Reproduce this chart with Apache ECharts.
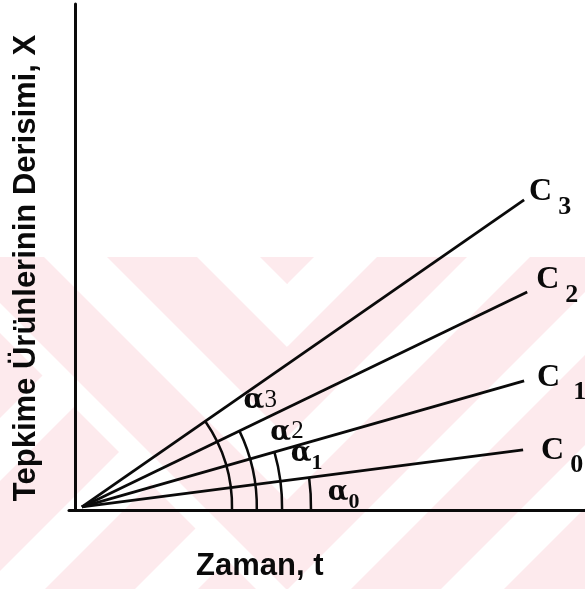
<!DOCTYPE html>
<html>
<head>
<meta charset="utf-8">
<script src="https://cdn.jsdelivr.net/npm/echarts@6/dist/echarts.min.js"></script>
<style>
  html, body { margin: 0; padding: 0; background: #ffffff; }
  #chart { width: 585px; height: 589px; }
</style>
</head>
<body>
<div id="chart"></div>
<script>
// Concentration-vs-time lines for four catalyst concentrations C0..C3
const lineNames = ['C0', 'C1', 'C2', 'C3'];
const lineSubscripts = ['0', '1', '2', '3'];
const lineStart = [2.5, 0.6];
const lineEnds = [[88.0, 11.9], [88.2, 25.5], [88.8, 43.1], [88.2, 61.3]];

// Angle markers: arc i sweeps from the time axis up to line Ci
const arcNames = ['α0', 'α1', 'α2', 'α3'];
const arcRadii = [44.4, 38.8, 33.9, 29.1];   // in time-axis units

const xTitle = 'Zaman, t';
const yTitle = 'Tepkime Ürünlerinin Derisimi, X';

// ---- layout / styling ----
const W = 585, H = 589;
const gridLeft = 69, gridTop = 4, gridBottom = 79;
const ink = '#0a0a0a';
const pink = '#fdeaed';

// end-label offsets (px) and subscript gaps for each line
const endLabelOffsets = [[18, 6.5], [13, 2.5], [9, -6], [5, -2]];
const subscriptGap = [6, 13, 6, 6];
// alpha label placement: [angle deg, radius px] around the common origin
const arcLabelPolar = [[2.4, 262], [12.4, 230], [19.8, 218], [30.5, 207]];
const arcLabelSub = [true, true, false, false];

// background watermark: diagonal bands folded into chevrons
function watermark() {
  const els = [];
  const xv = 287, bandH = 90, period = 153, L = 1200, top = 257, fold = 620;
  const poly = (pts, z, fill) => ({ type: 'polygon', silent: true, z: z, shape: { points: pts }, style: { fill: fill } });
  // rising bands everywhere
  for (let k = -3; k <= 6; k++) {
    const s = 194 + period * k + xv;
    els.push(poly([[s - L, L], [s + L, -L], [s + bandH + L, -L], [s + bandH - L, L]], -24, pink));
  }
  // upper-left wedge holds falling bands instead
  els.push(poly([[-L, -L], [xv, -L], [xv, fold], [-L, fold - xv - L]], -23, '#ffffff'));
  for (let k = -3; k <= 2; k++) {
    const c = 194 + period * k;
    els.push(poly([
      [xv - L, c - L], [xv, c], [xv + 1, c - 1],
      [xv + 1, c + bandH - 1], [xv, c + bandH], [xv - L, c + bandH - L]
    ], -22, pink));
  }
  els.push({ type: 'rect', silent: true, z: -21,
    shape: { x: 0, y: 0, width: W, height: top }, style: { fill: '#ffffff' } });
  return els;
}

const chart = echarts.init(document.getElementById('chart'), null, { renderer: 'canvas' });

const lineSeries = lineNames.map((name, i) => ({
  type: 'line',
  name: name,
  symbol: 'none',
  silent: true,
  clip: false,
  lineStyle: { color: ink, width: 2.8 },
  endLabel: {
    show: true,
    distance: 0,
    offset: endLabelOffsets[i],
    formatter: '{c|C}{s|' + lineSubscripts[i] + '}',
    rich: {
      c: { fontFamily: 'Liberation Serif', fontWeight: 'bold', fontSize: 32, color: ink, lineHeight: 30, verticalAlign: 'top' },
      s: { fontFamily: 'Liberation Serif', fontWeight: 'bold', fontSize: 26, color: ink, lineHeight: 44, verticalAlign: 'bottom', padding: [0, 0, 0, subscriptGap[i]] }
    }
  },
  data: [lineStart, lineEnds[i]]
}));

const arcSeries = {
  type: 'custom',
  silent: true,
  data: arcRadii.map((r, i) => [r, i]),
  renderItem: function (params, api) {
    const i = params.dataIndex;
    const o = api.coord(lineStart);
    const e = api.coord(lineEnds[i]);
    const axisY = api.coord([0, 0])[1];
    const ang = Math.atan2(o[1] - e[1], e[0] - o[0]);
    const r = api.size([arcRadii[i], 0])[0];
    const endAng = Math.asin(Math.min(1, (axisY - o[1]) / r));
    const pol = arcLabelPolar[i];
    const a = pol[0] * Math.PI / 180;
    const lx = o[0] + pol[1] * Math.cos(a);
    const ly = o[1] - pol[1] * Math.sin(a);
    const name = arcNames[i];
    const digit = name.slice(1);
    return {
      type: 'group',
      children: [
        {
          type: 'arc',
          shape: { cx: o[0], cy: o[1], r: r, startAngle: -ang, endAngle: endAng, clockwise: true },
          style: { stroke: ink, lineWidth: 2.5, fill: null }
        },
        {
          type: 'text',
          x: lx, y: ly,
          style: {
            text: '{a|α}{' + (arcLabelSub[i] ? 's' : 'n') + '|' + digit + '}',
            align: 'center', verticalAlign: 'middle',
            rich: {
              a: { fontFamily: 'DejaVu Serif', fontWeight: 'bold', fontSize: 27, fill: ink, lineHeight: 28, verticalAlign: 'top' },
              n: { fontFamily: 'Liberation Serif', fontSize: 25, fill: ink, lineHeight: 28, verticalAlign: 'top' },
              s: { fontFamily: 'Liberation Serif', fontWeight: 'bold', fontSize: 22, fill: ink, lineHeight: 34, verticalAlign: 'bottom' }
            }
          }
        }
      ]
    };
  }
};

const option = {
  backgroundColor: '#ffffff',
  animation: false,
  grid: { left: gridLeft, right: 0, top: gridTop, bottom: gridBottom, containLabel: false },
  xAxis: {
    type: 'value', min: 0, max: 100,
    axisLine: { show: true, lineStyle: { color: ink, width: 3 } },
    axisTick: { show: false }, axisLabel: { show: false }, splitLine: { show: false }
  },
  yAxis: {
    type: 'value', min: 0, max: 100, offset: -6,
    axisLine: { show: true, lineStyle: { color: ink, width: 3 } },
    axisTick: { show: false }, axisLabel: { show: false }, splitLine: { show: false }
  },
  graphic: watermark().concat([
    {
      type: 'text', silent: true, z: 10,
      x: 26, y: 268, rotation: Math.PI / 2,
      style: { text: yTitle, fontFamily: 'Liberation Sans', fontWeight: 'bold', fontSize: 31, fill: ink, align: 'center', verticalAlign: 'middle' }
    },
    {
      type: 'text', silent: true, z: 10,
      x: 196, y: 566,
      style: { text: xTitle, fontFamily: 'Liberation Sans', fontWeight: 'bold', fontSize: 31, fill: ink, align: 'left', verticalAlign: 'middle' }
    }
  ]),
  series: lineSeries.concat([arcSeries])
};

chart.setOption(option);
</script>
</body>
</html>
